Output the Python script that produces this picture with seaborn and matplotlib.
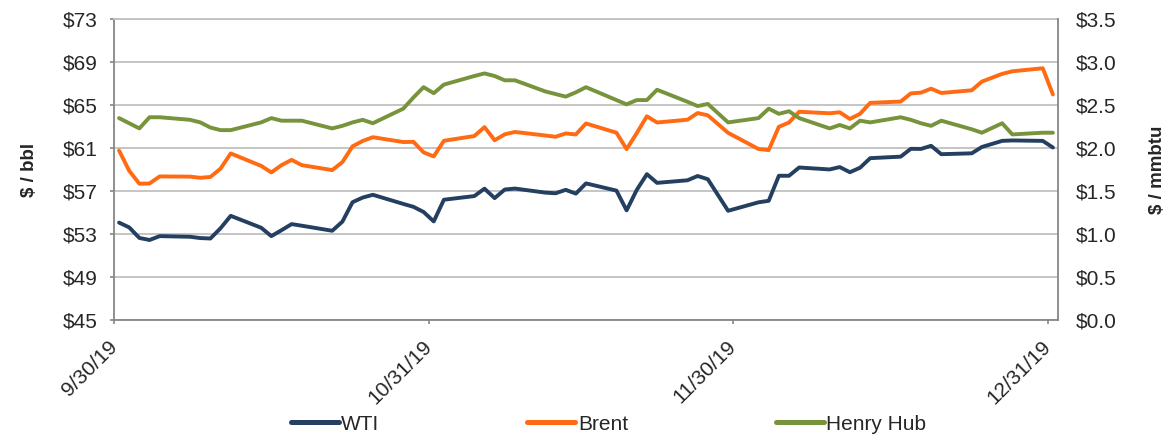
import matplotlib
matplotlib.use('Agg')
import pandas as pd
import matplotlib.pyplot as plt
from matplotlib.ticker import FuncFormatter
import seaborn as sns

# Trading days Sep 30 - Dec 31 2019 (market holidays dropped)
start_date = '2019-09-30'
end_date = '2019-12-31'
holidays = ['2019-11-28', '2019-12-25']

# $ / bbl
wti = [54.07, 53.62, 52.64, 52.45, 52.81, 52.75, 52.63, 52.59, 53.55, 54.70,
       53.59, 52.81, 53.36, 53.93, 53.78,
       53.31, 54.16, 55.97, 56.40, 56.66,
       55.81, 55.54, 55.06, 54.18, 56.20,
       56.54, 57.23, 56.35, 57.15, 57.24,
       56.86, 56.80, 57.12, 56.77, 57.72,
       57.05, 55.21, 57.11, 58.58, 57.77,
       58.01, 58.41, 58.11, 55.17,
       55.96, 56.10, 58.43, 58.43, 59.20,
       59.02, 59.24, 58.76, 59.18, 60.07,
       60.21, 60.94, 60.93, 61.22, 60.44,
       60.52, 61.11, 61.68, 61.72,
       61.68, 61.06]

brent = [60.78, 58.89, 57.69, 57.71, 58.37, 58.35, 58.24, 58.32, 59.10, 60.51,
         59.35, 58.74, 59.42, 59.91, 59.42,
         58.96, 59.70, 61.17, 61.67, 62.02,
         61.57, 61.59, 60.61, 60.23, 61.69,
         62.13, 62.96, 61.74, 62.29, 62.51,
         62.18, 62.06, 62.37, 62.28, 63.30,
         62.44, 60.91, 62.40, 63.97, 63.39,
         63.65, 64.27, 64.06, 62.43,
         60.92, 60.82, 62.99, 63.39, 64.39,
         64.25, 64.34, 63.72, 64.20, 65.22,
         65.34, 66.10, 66.17, 66.54, 66.14,
         66.39, 67.20, 67.92, 68.16,
         68.44, 66.00]

# $ / mmbtu
henry_hub = [2.35, 2.29, 2.23, 2.36, 2.36, 2.33, 2.30, 2.24, 2.21, 2.21,
             2.30, 2.35, 2.32, 2.32, 2.32,
             2.23, 2.26, 2.30, 2.33, 2.29,
             2.46, 2.59, 2.71, 2.64, 2.74,
             2.84, 2.87, 2.84, 2.79, 2.79,
             2.66, 2.63, 2.60, 2.65, 2.71,
             2.56, 2.51, 2.56, 2.56, 2.68,
             2.54, 2.49, 2.515, 2.30,
             2.35, 2.46, 2.40, 2.43, 2.35,
             2.23, 2.27, 2.23, 2.32, 2.30,
             2.36, 2.33, 2.29, 2.26, 2.32,
             2.22, 2.18, 2.29, 2.16,
             2.18, 2.18]

tick_dates = ['2019-09-30', '2019-10-31', '2019-11-30', '2019-12-31']
tick_labels = ['9/30/19', '10/31/19', '11/30/19', '12/31/19']
left_ticks = [45, 49, 53, 57, 61, 65, 69, 73]
right_ticks = [0.0, 0.5, 1.0, 1.5, 2.0, 2.5, 3.0, 3.5]

dates = pd.bdate_range(start_date, end_date).drop(pd.to_datetime(holidays))
# points sit in the middle of each day slot, like an Excel date axis
df = pd.DataFrame({'date': dates + pd.Timedelta(hours=12),
                   'WTI': wti, 'Brent': brent, 'Henry Hub': henry_hub})

sns.set_style('white')
plt.rcParams['font.family'] = ['Liberation Sans', 'DejaVu Sans']

c_wti = '#243F60'
c_brent = '#FF6A13'
c_hh = '#77933C'
axis_grey = '#868686'
grid_grey = '#C0C0C0'
fs = 15

fig = plt.figure(figsize=(11.75, 4.37), dpi=100)
ax = fig.add_axes([0.09702, 0.26773, 0.80340, 0.68810])
ax2 = ax.twinx()

sns.lineplot(data=df, x='date', y='WTI', ax=ax, color=c_wti, lw=2.8, label='WTI', legend=False)
sns.lineplot(data=df, x='date', y='Brent', ax=ax, color=c_brent, lw=2.8, label='Brent', legend=False)
sns.lineplot(data=df, x='date', y='Henry Hub', ax=ax2, color=c_hh, lw=2.8, label='Henry Hub', legend=False)

for a in (ax, ax2):
    if a.get_legend() is not None:
        a.get_legend().remove()
    a.set_xlabel('')
    a.set_ylabel('')

ax.set_xlim(pd.Timestamp(start_date), pd.Timestamp('2020-01-01'))
ax.set_ylim(45, 73)
ax2.set_ylim(0, 3.5)

ax.set_yticks(left_ticks)
ax.yaxis.set_major_formatter(FuncFormatter(lambda v, p: '${:.0f}'.format(v)))
ax2.set_yticks(right_ticks)
ax2.yaxis.set_major_formatter(FuncFormatter(lambda v, p: '${:.1f}'.format(v)))

ax.set_xticks(pd.to_datetime(tick_dates))
ax.set_xticklabels(tick_labels, rotation=45, ha='right', va='center', rotation_mode='anchor')

ax.yaxis.grid(True, color=grid_grey, lw=1.3)
ax.xaxis.grid(False)
ax.set_axisbelow(True)

ax.tick_params(axis='y', left=True, length=3, width=1.2, color=axis_grey, pad=9, labelsize=fs)
ax.tick_params(axis='x', bottom=True, length=3, width=1.2, color=axis_grey, pad=14, labelsize=fs)
ax2.tick_params(axis='y', right=True, length=0, pad=13, labelsize=fs)

for s in ('left', 'bottom'):
    ax.spines[s].set_color(axis_grey)
    ax.spines[s].set_linewidth(1.3)
ax.spines['top'].set_color(grid_grey)
ax.spines['top'].set_linewidth(1.3)
ax.spines['right'].set_visible(False)
for s in ('left', 'bottom', 'top'):
    ax2.spines[s].set_visible(False)
ax2.spines['right'].set_color(axis_grey)
ax2.spines['right'].set_linewidth(1.3)

fig.text(29 / 1175, 1 - 170 / 437, '$ / bbl', rotation=90, ha='center', va='center',
         fontsize=13.5, fontweight='bold')
fig.text(1158 / 1175, 1 - 170 / 437, '$ / mmbtu', rotation=90, ha='center', va='center',
         fontsize=13.5, fontweight='bold')

handles = ax.get_lines()[:2] + ax2.get_lines()[:1]
labels = ['WTI', 'Brent', 'Henry Hub']
leg = fig.legend(handles, labels, loc='center', bbox_to_anchor=(608.5 / 1175, 1 - 424 / 437),
                 ncol=3, frameon=False, fontsize=fs, handlelength=2.3, handletextpad=0.12,
                 columnspacing=7.1)
for line in leg.get_lines():
    line.set_linewidth(3.6)

fig.savefig('out.png', dpi=100)
